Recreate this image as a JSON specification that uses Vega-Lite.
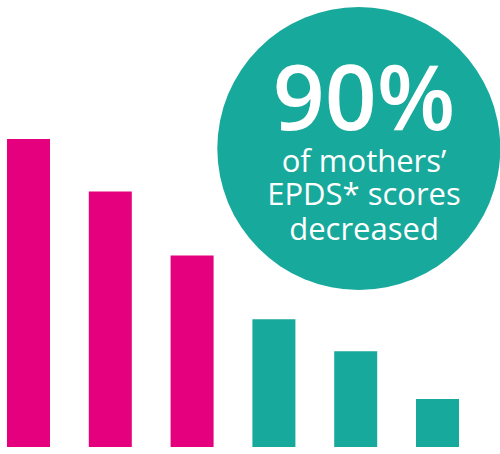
{
  "$schema": "https://vega.github.io/schema/vega-lite/v6.json",
  "width": 466,
  "height": 447,
  "padding": {"left": 0, "top": 0, "right": 34, "bottom": 7},
  "autosize": {"type": "none"},
  "background": "white",
  "config": {"view": {"stroke": null}},
  "datasets": {
    "bars": [
      {"cat": "1", "group": "magenta", "value": 19.3},
      {"cat": "2", "group": "magenta", "value": 16},
      {"cat": "3", "group": "magenta", "value": 12},
      {"cat": "4", "group": "teal", "value": 8},
      {"cat": "5", "group": "teal", "value": 6},
      {"cat": "6", "group": "teal", "value": 3}
    ],
    "circle": [{"cx": 358.8, "cy": 298.5}],
    "big": [{"tx": 364, "ty": 317, "label": "90%"}],
    "small": [
      {"tx": 364, "ty": 275, "label": "of mothers’"},
      {"tx": 364, "ty": 242, "label": "EPDS* scores"},
      {"tx": 364, "ty": 207, "label": "decreased"}
    ]
  },
  "layer": [
    {
      "data": {"name": "bars"},
      "mark": {"type": "bar"},
      "encoding": {
        "x": {"field": "cat", "type": "nominal", "sort": null, "scale": {"paddingInner": 0.4743, "paddingOuter": 0.0855}, "axis": null},
        "y": {"field": "value", "type": "quantitative", "scale": {"domain": [0, 28], "nice": false}, "axis": null},
        "color": {"field": "group", "type": "nominal", "scale": {"domain": ["magenta", "teal"], "range": ["#E5007D", "#17A99B"]}, "legend": null}
      }
    },
    {
      "data": {"name": "circle"},
      "mark": {"type": "point", "shape": "circle", "filled": true, "size": 80089, "opacity": 1, "color": "#17A99B", "strokeWidth": 0},
      "encoding": {
        "x": {"field": "cx", "type": "quantitative", "scale": {"domain": [0, 466], "nice": false, "zero": false}, "axis": null},
        "y": {"field": "cy", "type": "quantitative", "scale": {"domain": [0, 447], "nice": false, "zero": false}, "axis": null}
      }
    },
    {
      "data": {"name": "big"},
      "mark": {"type": "text", "font": "Open Sans", "fontSize": 91, "fontWeight": 600, "color": "white", "align": "center", "baseline": "alphabetic"},
      "encoding": {
        "x": {"field": "tx", "type": "quantitative", "scale": {"domain": [0, 466], "nice": false, "zero": false}, "axis": null},
        "y": {"field": "ty", "type": "quantitative", "scale": {"domain": [0, 447], "nice": false, "zero": false}, "axis": null},
        "text": {"field": "label"}
      }
    },
    {
      "data": {"name": "small"},
      "mark": {"type": "text", "font": "Open Sans", "fontSize": 31, "fontWeight": "normal", "color": "white", "align": "center", "baseline": "alphabetic"},
      "encoding": {
        "x": {"field": "tx", "type": "quantitative", "scale": {"domain": [0, 466], "nice": false, "zero": false}, "axis": null},
        "y": {"field": "ty", "type": "quantitative", "scale": {"domain": [0, 447], "nice": false, "zero": false}, "axis": null},
        "text": {"field": "label"}
      }
    }
  ],
  "resolve": {"scale": {"x": "independent", "y": "independent", "color": "independent"}}
}
